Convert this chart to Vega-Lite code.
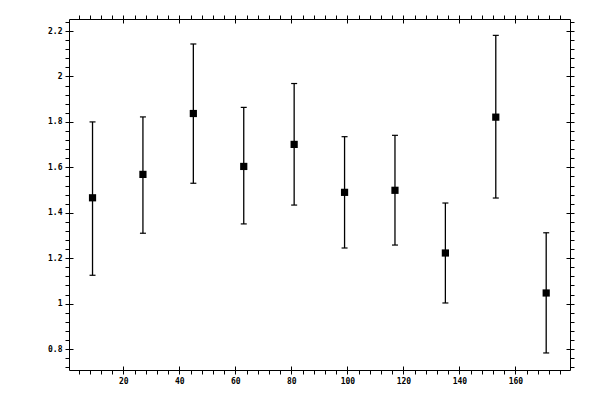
{
  "$schema": "https://vega.github.io/schema/vega-lite/v6.json",
  "description": "Scatter with error bars",
  "autosize": "none",
  "padding": {"left": 69, "top": 19, "right": 30, "bottom": 30},
  "width": 501,
  "height": 351,
  "background": "white",
  "config": {
    "view": {"stroke": null},
    "axis": {
      "grid": false,
      "domainColor": "black",
      "domainWidth": 1,
      "tickColor": "black",
      "tickWidth": 1,
      "labelFont": "DejaVu Sans Mono",
      "labelFontSize": 8,
      "labelFontWeight": "bold",
      "labelColor": "black",
      "title": null
    }
  },
  "data": {
    "values": [
      {"x": 9, "y": 1.466, "lo": 1.125, "hi": 1.8},
      {"x": 27, "y": 1.569, "lo": 1.31, "hi": 1.822},
      {"x": 45, "y": 1.837, "lo": 1.53, "hi": 2.143},
      {"x": 63, "y": 1.604, "lo": 1.351, "hi": 1.864},
      {"x": 81, "y": 1.701, "lo": 1.434, "hi": 1.969},
      {"x": 99, "y": 1.49, "lo": 1.245, "hi": 1.735},
      {"x": 117, "y": 1.499, "lo": 1.258, "hi": 1.741},
      {"x": 135, "y": 1.223, "lo": 1.003, "hi": 1.443},
      {"x": 153, "y": 1.821, "lo": 1.465, "hi": 2.181},
      {"x": 171, "y": 1.047, "lo": 0.783, "hi": 1.312}
    ]
  },
  "resolve": {"axis": {"x": "independent", "y": "independent"}},
  "layer": [
    {
      "mark": {"type": "rule", "color": "black", "strokeWidth": 1.3},
      "encoding": {
        "x": {
          "field": "x", "type": "quantitative",
          "scale": {"domain": [0.6, 179.5], "nice": false, "zero": false},
          "axis": {
            "orient": "bottom",
            "values": [4, 8, 12, 16, 20, 24, 28, 32, 36, 40, 44, 48, 52, 56, 60, 64, 68, 72, 76, 80, 84, 88, 92, 96, 100, 104, 108, 112, 116, 120, 124, 128, 132, 136, 140, 144, 148, 152, 156, 160, 164, 168, 172, 176],
            "tickSize": 4,
            "labelPadding": 3,
            "labelExpr": "datum.value % 20 === 0 ? datum.label : ''"
          }
        },
        "y": {
          "field": "lo", "type": "quantitative",
          "scale": {"domain": [0.708, 2.253], "nice": false, "zero": false},
          "axis": {
            "orient": "left",
            "values": [0.72, 0.76, 0.8, 0.84, 0.88, 0.92, 0.96, 1, 1.04, 1.08, 1.12, 1.16, 1.2, 1.24, 1.28, 1.32, 1.36, 1.4, 1.44, 1.48, 1.52, 1.56, 1.6, 1.64, 1.68, 1.72, 1.76, 1.8, 1.84, 1.88, 1.92, 1.96, 2, 2.04, 2.08, 2.12, 2.16, 2.2, 2.24],
            "tickSize": 4,
            "labelPadding": 3,
            "labelExpr": "abs(datum.value * 5 - round(datum.value * 5)) < 0.001 ? toString(round(datum.value * 5) / 5) : ''"
          }
        },
        "y2": {"field": "hi"}
      }
    },
    {
      "mark": {"type": "tick", "orient": "horizontal", "color": "black", "size": 6, "thickness": 1.2, "opacity": 1},
      "encoding": {
        "x": {
          "field": "x", "type": "quantitative",
          "axis": {
            "orient": "top",
            "values": [4, 8, 12, 16, 20, 24, 28, 32, 36, 40, 44, 48, 52, 56, 60, 64, 68, 72, 76, 80, 84, 88, 92, 96, 100, 104, 108, 112, 116, 120, 124, 128, 132, 136, 140, 144, 148, 152, 156, 160, 164, 168, 172, 176],
            "tickSize": 4,
            "labels": false
          }
        },
        "y": {
          "field": "lo", "type": "quantitative",
          "axis": {
            "orient": "right",
            "values": [0.72, 0.76, 0.8, 0.84, 0.88, 0.92, 0.96, 1, 1.04, 1.08, 1.12, 1.16, 1.2, 1.24, 1.28, 1.32, 1.36, 1.4, 1.44, 1.48, 1.52, 1.56, 1.6, 1.64, 1.68, 1.72, 1.76, 1.8, 1.84, 1.88, 1.92, 1.96, 2, 2.04, 2.08, 2.12, 2.16, 2.2, 2.24],
            "tickSize": 4,
            "labels": false
          }
        }
      }
    },
    {
      "mark": {"type": "tick", "orient": "horizontal", "color": "black", "size": 6, "thickness": 1.2, "opacity": 1},
      "encoding": {
        "x": {
          "field": "x", "type": "quantitative",
          "axis": {"orient": "bottom", "values": [20, 40, 60, 80, 100, 120, 140, 160], "tickSize": -4, "labels": false, "domain": false}
        },
        "y": {
          "field": "hi", "type": "quantitative",
          "axis": {"orient": "left", "values": [0.8, 1, 1.2, 1.4, 1.6, 1.8, 2, 2.2], "tickSize": -4, "labels": false, "domain": false}
        }
      }
    },
    {
      "mark": {"type": "point", "shape": "square", "filled": true, "color": "black", "size": 52, "opacity": 1},
      "encoding": {
        "x": {
          "field": "x", "type": "quantitative",
          "axis": {"orient": "top", "values": [20, 40, 60, 80, 100, 120, 140, 160], "tickSize": -4, "labels": false, "domain": false}
        },
        "y": {
          "field": "y", "type": "quantitative",
          "axis": {"orient": "right", "values": [0.8, 1, 1.2, 1.4, 1.6, 1.8, 2, 2.2], "tickSize": -4, "labels": false, "domain": false}
        }
      }
    }
  ]
}
